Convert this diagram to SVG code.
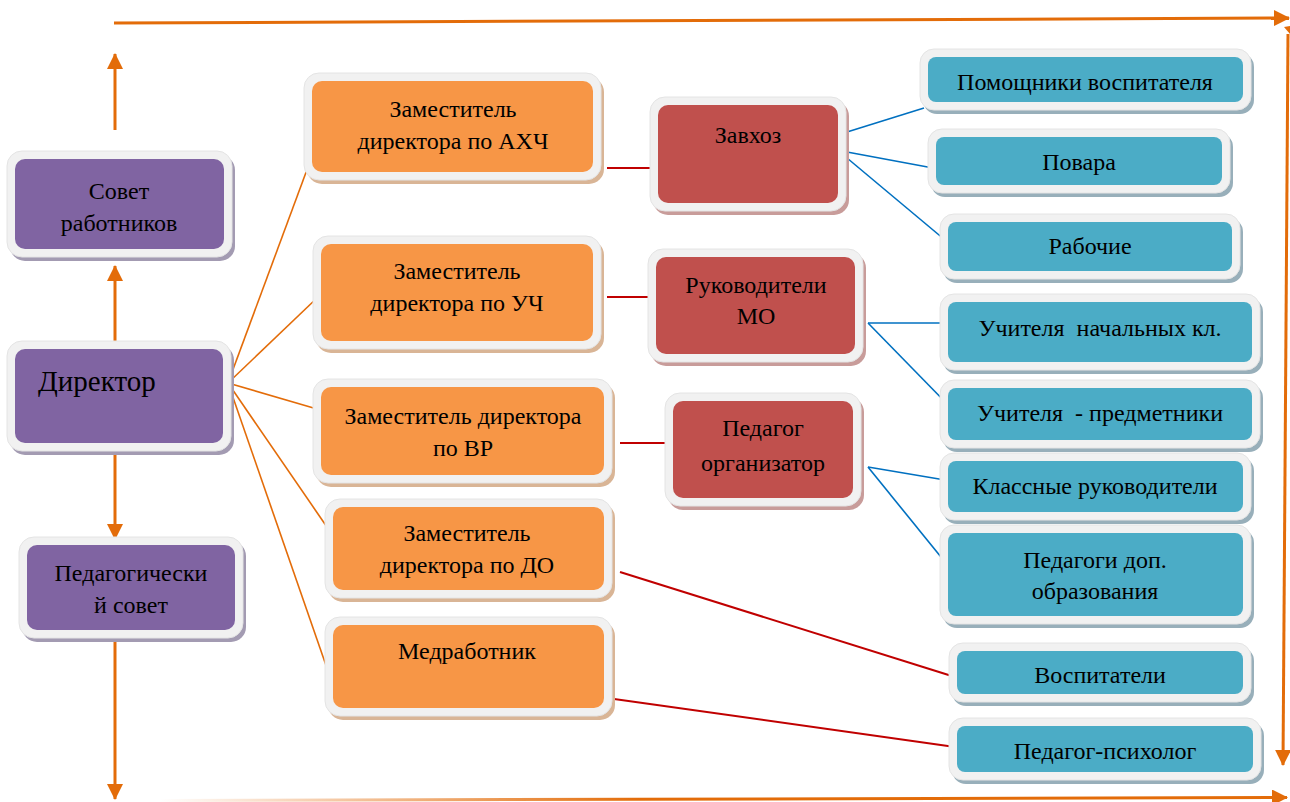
<svg xmlns="http://www.w3.org/2000/svg" width="1290" height="802" viewBox="0 0 1290 802">
<defs>
<style>
.fr{fill:#f1f1f1;stroke:#e4e4e4;stroke-width:1}
.in{stroke:none}
.purple .in{fill:#8064A2}.purple .sh{fill:#a39bb2}
.orange .in{fill:#F79646}.orange .sh{fill:#d9b596}
.red .in{fill:#C0504D}.red .sh{fill:#c89c9a}
.blue .in{fill:#4BACC6}.blue .sh{fill:#98afba}
text{font-family:"Liberation Serif","Times New Roman",serif;font-size:24px;fill:#000;text-anchor:middle}
.big{font-size:29px;text-anchor:start}
.or{stroke:#E36C09;fill:none}
.arr{stroke-width:3}
.fan{stroke-width:1.6}
.rd{stroke:#C00000;stroke-width:2;fill:none}
.bl{stroke:#0070C0;stroke-width:1.6;fill:none}
</style>
<marker id="ah" markerUnits="userSpaceOnUse" markerWidth="16" markerHeight="16" viewBox="0 0 16 16" refX="15" refY="8" orient="auto">
<path d="M0,0 L16,8 L0,16 Z" fill="#E36C09"/>
</marker>
<linearGradient id="gb" x1="160" y1="0" x2="640" y2="0" gradientUnits="userSpaceOnUse">
<stop offset="0" stop-color="#E36C09" stop-opacity="0"/>
<stop offset="1" stop-color="#E36C09" stop-opacity="1"/>
</linearGradient>
</defs>

<g id="connectors">
<line class="or arr" x1="114" y1="23" x2="1289" y2="18" marker-end="url(#ah)"/>
<line class="or arr" x1="1288" y1="34" x2="1283" y2="765" marker-end="url(#ah)"/>
<path d="M1284,27 L1290,26 L1290,34 Z" fill="#E36C09"/>
<line x1="160" y1="800.5" x2="1287" y2="797.5" stroke="url(#gb)" stroke-width="3" marker-end="url(#ah)"/>
<line class="or arr" x1="115" y1="130" x2="115" y2="54" marker-end="url(#ah)"/>
<line class="or arr" x1="115" y1="342" x2="115" y2="266" marker-end="url(#ah)"/>
<line class="or arr" x1="115" y1="453" x2="115" y2="539" marker-end="url(#ah)"/>
<line class="or arr" x1="115" y1="633" x2="115" y2="799" marker-end="url(#ah)"/>
<line class="or fan" x1="228" y1="383" x2="308" y2="167"/>
<line class="or fan" x1="228" y1="383" x2="318" y2="297"/>
<line class="or fan" x1="228" y1="383" x2="317" y2="409"/>
<line class="or fan" x1="228" y1="383" x2="329" y2="530"/>
<line class="or fan" x1="228" y1="383" x2="329" y2="674"/>
<line class="rd" x1="607" y1="168" x2="654" y2="168"/>
<line class="rd" x1="607" y1="297" x2="653" y2="297"/>
<line class="rd" x1="620" y1="443" x2="670" y2="443"/>
<line class="rd" x1="620" y1="572" x2="955" y2="677"/>
<line class="rd" x1="607" y1="698" x2="955" y2="747"/>
<line class="bl" x1="847" y1="132" x2="924" y2="108"/>
<line class="bl" x1="847" y1="152" x2="933" y2="168"/>
<line class="bl" x1="847" y1="158" x2="945" y2="240"/>
<line class="bl" x1="868" y1="323" x2="945" y2="323"/>
<line class="bl" x1="868" y1="323" x2="953" y2="410"/>
<line class="bl" x1="868" y1="467" x2="945" y2="480"/>
<line class="bl" x1="868" y1="467" x2="945" y2="562"/>
</g>

<g id="n-sovet" class="purple">
<rect class="sh" x="10" y="155" width="225" height="106" rx="15"/>
<rect class="fr" x="7" y="151" width="225" height="106" rx="15"/>
<rect class="in" x="15" y="159" width="209" height="90" rx="10"/>
<text x="119" y="199">Совет</text>
<text x="119" y="231">работников</text>
</g>
<g id="n-director" class="purple">
<rect class="sh" x="10" y="345" width="224" height="110" rx="15"/>
<rect class="fr" x="7" y="341" width="224" height="110" rx="15"/>
<rect class="in" x="15" y="349" width="208" height="94" rx="10"/>
<text class="big" x="38" y="391">Директор</text>
</g>
<g id="n-pedsovet" class="purple">
<rect class="sh" x="22" y="541" width="224" height="101" rx="15"/>
<rect class="fr" x="19" y="537" width="224" height="101" rx="15"/>
<rect class="in" x="27" y="545" width="208" height="85" rx="10"/>
<text x="131" y="581">Педагогически</text>
<text x="131" y="613">й совет</text>
</g>

<g id="n-axch" class="orange">
<rect class="sh" x="307" y="77" width="297" height="107" rx="15"/>
<rect class="fr" x="304" y="73" width="297" height="107" rx="15"/>
<rect class="in" x="312" y="81" width="281" height="91" rx="10"/>
<text x="453" y="117">Заместитель</text>
<text x="453" y="149">директора по АХЧ</text>
</g>
<g id="n-uch" class="orange">
<rect class="sh" x="316" y="240" width="288" height="113" rx="15"/>
<rect class="fr" x="313" y="236" width="288" height="113" rx="15"/>
<rect class="in" x="321" y="244" width="272" height="97" rx="10"/>
<text x="457" y="279">Заместитель</text>
<text x="457" y="311">директора по УЧ</text>
</g>
<g id="n-vr" class="orange">
<rect class="sh" x="316" y="383" width="299" height="104" rx="15"/>
<rect class="fr" x="313" y="379" width="299" height="104" rx="15"/>
<rect class="in" x="321" y="387" width="283" height="88" rx="10"/>
<text x="463" y="424">Заместитель директора</text>
<text x="463" y="456">по ВР</text>
</g>
<g id="n-do" class="orange">
<rect class="sh" x="328" y="503" width="287" height="99" rx="15"/>
<rect class="fr" x="325" y="499" width="287" height="99" rx="15"/>
<rect class="in" x="333" y="507" width="271" height="83" rx="10"/>
<text x="467" y="541">Заместитель</text>
<text x="467" y="573">директора по ДО</text>
</g>
<g id="n-med" class="orange">
<rect class="sh" x="328" y="621" width="287" height="99" rx="15"/>
<rect class="fr" x="325" y="617" width="287" height="99" rx="15"/>
<rect class="in" x="333" y="625" width="271" height="83" rx="10"/>
<text x="467" y="659">Медработник</text>
</g>

<g id="n-zavhoz" class="red">
<rect class="sh" x="653" y="101" width="196" height="114" rx="15"/>
<rect class="fr" x="650" y="97" width="196" height="114" rx="15"/>
<rect class="in" x="658" y="105" width="180" height="98" rx="10"/>
<text x="748" y="143">Завхоз</text>
</g>
<g id="n-mo" class="red">
<rect class="sh" x="651" y="253" width="215" height="113" rx="15"/>
<rect class="fr" x="648" y="249" width="215" height="113" rx="15"/>
<rect class="in" x="656" y="257" width="199" height="97" rx="10"/>
<text x="756" y="293">Руководители</text>
<text x="756" y="324">МО</text>
</g>
<g id="n-pedorg" class="red">
<rect class="sh" x="668" y="397" width="196" height="113" rx="15"/>
<rect class="fr" x="665" y="393" width="196" height="113" rx="15"/>
<rect class="in" x="673" y="401" width="180" height="97" rx="10"/>
<text x="763" y="436">Педагог</text>
<text x="763" y="471">организатор</text>
</g>

<g id="n-pomosh" class="blue">
<rect class="sh" x="923" y="53" width="331" height="61" rx="14"/>
<rect class="fr" x="920" y="49" width="331" height="61" rx="14"/>
<rect class="in" x="928" y="57" width="315" height="45" rx="8"/>
<text x="1085" y="90">Помощники воспитателя</text>
</g>
<g id="n-povara" class="blue">
<rect class="sh" x="931" y="133" width="302" height="64" rx="14"/>
<rect class="fr" x="928" y="129" width="302" height="64" rx="14"/>
<rect class="in" x="936" y="137" width="286" height="48" rx="8"/>
<text x="1079" y="170">Повара</text>
</g>
<g id="n-rabochie" class="blue">
<rect class="sh" x="943" y="218" width="300" height="65" rx="14"/>
<rect class="fr" x="940" y="214" width="300" height="65" rx="14"/>
<rect class="in" x="948" y="222" width="284" height="49" rx="8"/>
<text x="1090" y="254">Рабочие</text>
</g>
<g id="n-uchnach" class="blue">
<rect class="sh" x="943" y="298" width="320" height="76" rx="14"/>
<rect class="fr" x="940" y="294" width="320" height="76" rx="14"/>
<rect class="in" x="948" y="302" width="304" height="60" rx="8"/>
<text x="1100" y="336" xml:space="preserve">Учителя  начальных кл.</text>
</g>
<g id="n-uchpred" class="blue">
<rect class="sh" x="943" y="384" width="320" height="68" rx="14"/>
<rect class="fr" x="940" y="380" width="320" height="68" rx="14"/>
<rect class="in" x="948" y="388" width="304" height="52" rx="8"/>
<text x="1100" y="421" xml:space="preserve">Учителя  - предметники</text>
</g>
<g id="n-klass" class="blue">
<rect class="sh" x="943" y="457" width="311" height="67" rx="14"/>
<rect class="fr" x="940" y="453" width="311" height="67" rx="14"/>
<rect class="in" x="948" y="461" width="295" height="51" rx="8"/>
<text x="1095" y="494">Классные руководители</text>
</g>
<g id="n-peddop" class="blue">
<rect class="sh" x="943" y="529" width="311" height="99" rx="14"/>
<rect class="fr" x="940" y="525" width="311" height="99" rx="14"/>
<rect class="in" x="948" y="533" width="295" height="83" rx="8"/>
<text x="1095" y="568">Педагоги доп.</text>
<text x="1095" y="599">образования</text>
</g>
<g id="n-vospit" class="blue">
<rect class="sh" x="952" y="647" width="302" height="59" rx="14"/>
<rect class="fr" x="949" y="643" width="302" height="59" rx="14"/>
<rect class="in" x="957" y="651" width="286" height="43" rx="8"/>
<text x="1100" y="683">Воспитатели</text>
</g>
<g id="n-psych" class="blue">
<rect class="sh" x="952" y="722" width="312" height="62" rx="14"/>
<rect class="fr" x="949" y="718" width="312" height="62" rx="14"/>
<rect class="in" x="957" y="726" width="296" height="46" rx="8"/>
<text x="1105" y="759">Педагог-психолог</text>
</g>
</svg>
